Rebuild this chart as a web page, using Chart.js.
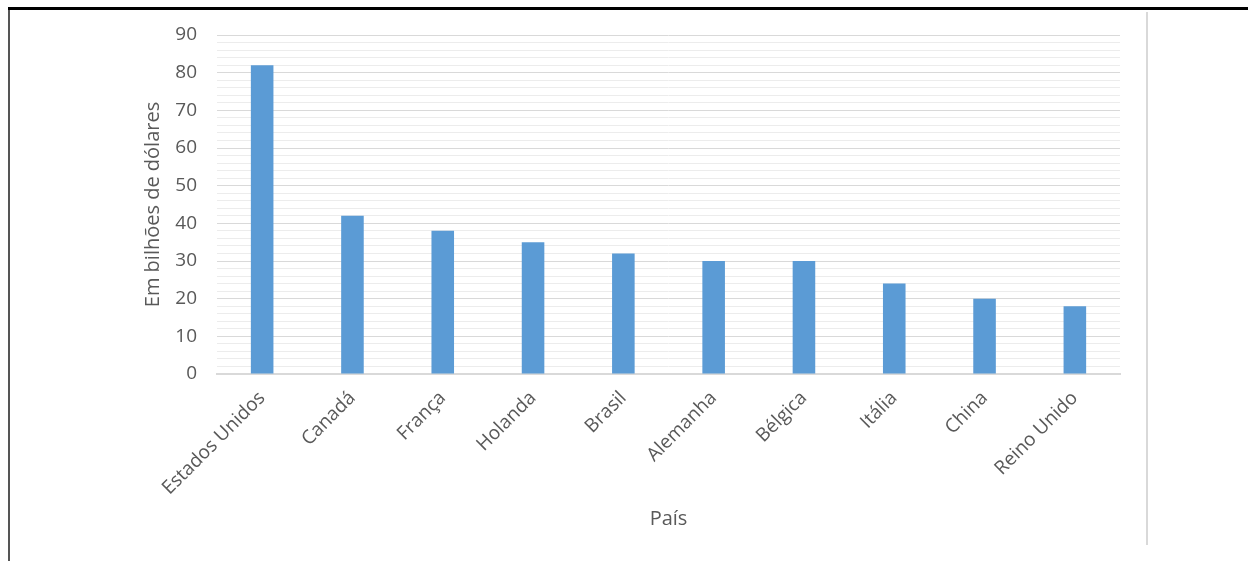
<!DOCTYPE html>
<html>
<head>
<meta charset="utf-8">
<script src="https://cdn.jsdelivr.net/npm/chart.js@4"></script>
<style>
  body { margin: 0; background: #fff; }
  #wrap { position: relative; width: 1248px; height: 561px; overflow: hidden; }
  #chart { position: absolute; left: 0; top: 0; }
  .frame-top { position: absolute; left: 8px; top: 7px; width: 1240px; height: 3px; background: #000; }
  .frame-left { position: absolute; left: 8px; top: 10px; width: 2px; height: 551px; background: #555; }
  .frame-right { position: absolute; left: 1146px; top: 12px; width: 2px; height: 533px; background: #d9d9d9; }
</style>
</head>
<body>
<div id="wrap">
  <canvas id="chart" width="1248" height="561"></canvas>
  <div class="frame-top"></div>
  <div class="frame-left"></div>
  <div class="frame-right"></div>
</div>
<script>
// country names and values (billions of dollars)
const countries = ['Estados Unidos', 'Canadá', 'França', 'Holanda', 'Brasil', 'Alemanha', 'Bélgica', 'Itália', 'China', 'Reino Unido'];
const values = [82, 42, 38, 35, 32, 30, 30, 24, 20, 18];
const yMax = 90;
const yMinorStep = 2;
const yMajorStep = 10;

const textColor = '#595959';
const fontFamily = '"Open Sans", sans-serif';

const ctx = document.getElementById('chart').getContext('2d');
new Chart(ctx, {
    type: 'bar',
    data: {
        labels: countries,
        datasets: [{
            data: values,
            backgroundColor: '#5b9bd5',
            barPercentage: 0.25,
            categoryPercentage: 1
        }]
    },
    options: {
        responsive: false,
        animation: false,
        layout: { padding: { top: 35, right: 128, left: 0, bottom: 0 } },
        plugins: { legend: { display: false }, tooltip: { enabled: false } },
        scales: {
            x: {
                grid: { display: false, drawTicks: false },
                border: { color: '#d9d9d9', width: 2 },
                ticks: {
                    color: textColor,
                    font: { family: fontFamily, size: 19 },
                    minRotation: 45,
                    maxRotation: 45,
                    autoSkip: false,
                    padding: 13
                },
                title: {
                    display: true,
                    text: 'País',
                    color: textColor,
                    font: { family: fontFamily, size: 20 },
                    padding: { top: 0, bottom: 30 }
                },
                afterFit: function (scale) { scale.height = 187; }
            },
            y: {
                min: 0,
                max: yMax,
                grid: {
                    drawTicks: false,
                    color: c => (c.tick && c.tick.value % yMajorStep === 0) ? '#d9d9d9' : '#ececec',
                    lineWidth: 1
                },
                border: { display: false },
                ticks: {
                    stepSize: yMinorStep,
                    autoSkip: false,
                    color: textColor,
                    font: { family: fontFamily, size: 19 },
                    padding: 20,
                    callback: v => (v % yMajorStep === 0 ? v : '')
                },
                title: {
                    display: true,
                    text: 'Em bilhões de dólares',
                    color: textColor,
                    font: { family: fontFamily, size: 20 },
                    padding: { top: 141, bottom: 0 }
                },
                afterFit: function (scale) { scale.width = 217; }
            }
        }
    }
});
</script>
</body>
</html>
